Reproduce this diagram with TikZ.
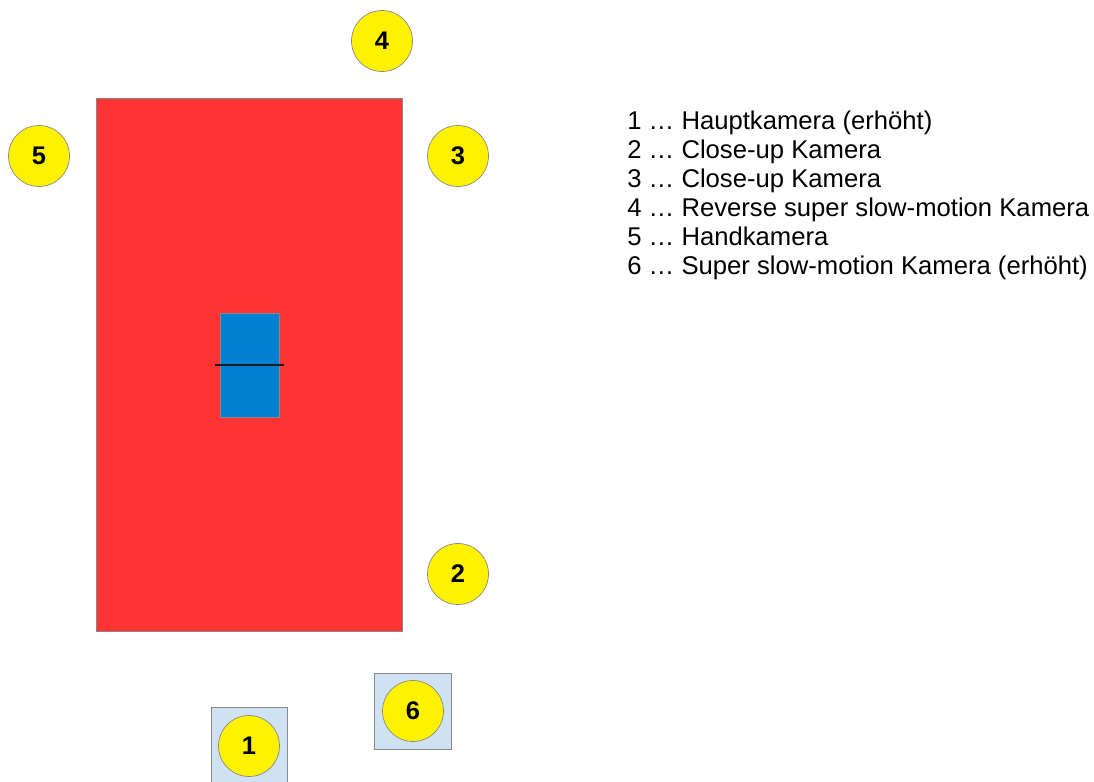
\documentclass[tikz,border=0pt]{standalone}
\usepackage{fontspec}
\setmainfont{Liberation Sans}
\usetikzlibrary{positioning}

\definecolor{courtred}{HTML}{FF3333}
\definecolor{netblue}{HTML}{0080D0}
\definecolor{podblue}{HTML}{CFE2F3}
\definecolor{edgegray}{HTML}{888888}

\begin{document}
\begin{tikzpicture}[x=0.02cm, y=-0.02cm,
    cam/.style={circle, draw=edgegray, fill=yellow, minimum size=1.22cm, inner sep=0pt,
        font=\fontsize{14.5}{14.5}\selectfont\bfseries},
    podest/.style={draw=edgegray, fill=podblue, minimum size=1.53cm, inner sep=0pt},
    legend/.style={anchor=base west, inner sep=0pt, font=\fontsize{14.6}{16}\selectfont}]

    \useasboundingbox (0,0) rectangle (1094,781);

    % Court
    \node[draw=edgegray, fill=courtred, minimum width=6.12cm, minimum height=10.66cm,
        inner sep=0pt] (court) at (249, 364.5) {};

    % Net
    \node[draw=edgegray, fill=netblue, minimum width=1.18cm, minimum height=2.08cm,
        inner sep=0pt] (net) at (249.5, 365) {};
    \draw[line width=1pt, black!90] ([xshift=-0.1cm]net.west) -- ([xshift=0.1cm]net.east);

    % Raised platforms
    \node[podest] (pod1) at (249.5, 746) {};
    \node[podest] (pod6) at (413, 711.5) {};

    % Cameras
    \foreach \n/\x/\y in {1/249/746, 2/458/574, 3/458/156, 4/382/41, 5/39/156, 6/413/711} {
        \node[cam] (cam\n) at (\x, \y) {\n};
    }

    % Legend
    \foreach \i/\txt in {1/Hauptkamera (erhöht), 2/Close-up Kamera, 3/Close-up Kamera,
        4/Reverse super slow-motion Kamera, 5/Handkamera, 6/Super slow-motion Kamera (erhöht)} {
        \node[legend] (leg\i) at (627, {129+29*(\i-1)}) {\i{} … \txt};
    }
\end{tikzpicture}
\end{document}
